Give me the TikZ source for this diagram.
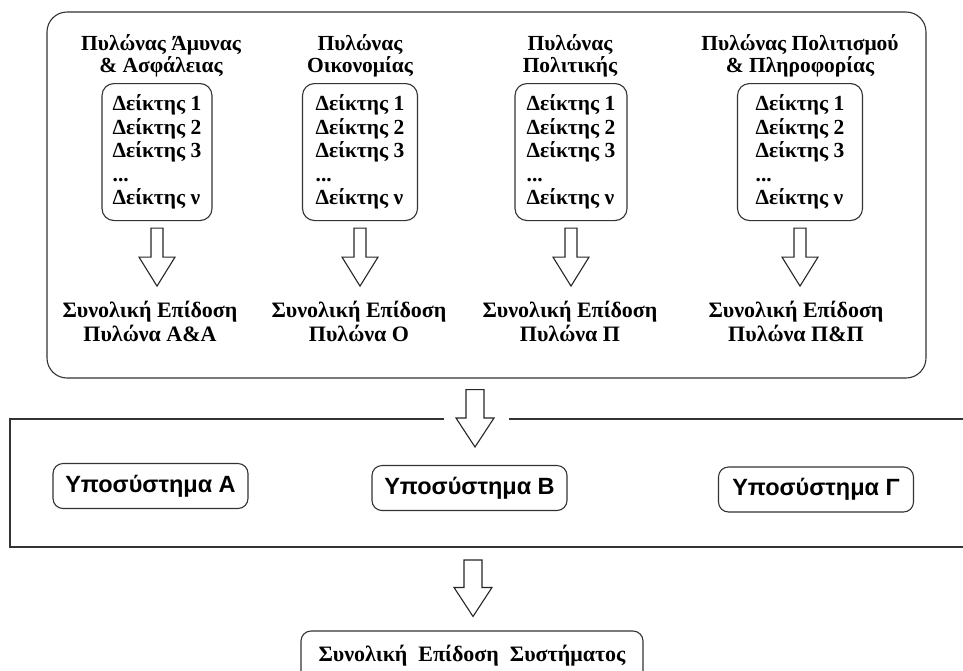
\documentclass[tikz,border=0pt]{standalone}
\usepackage{fontspec}
\setmainfont{Liberation Serif}
\setsansfont{Liberation Sans}
\usetikzlibrary{calc,positioning}

\tikzset{
  frame/.style={draw=black!80, line width=1.1pt},
  indbox/.style={frame, rounded corners=12pt, align=left, inner sep=0pt,
    minimum height=137pt, font=\bfseries\fontsize{21.5}{23.5}\selectfont},
  pillartitle/.style={align=center, inner sep=0pt, font=\bfseries\fontsize{21.5}{21.5}\selectfont},
  score/.style={align=center, inner sep=0pt, font=\bfseries\fontsize{22}{24}\selectfont},
  subbox/.style={frame, rounded corners=10pt, minimum width=195pt, minimum height=45pt,
    font=\sffamily\bfseries\fontsize{23.5}{26}\selectfont},
  blockarrow/.style={draw=black!85, line width=1.1pt, fill=white, line join=miter},
}
% hollow arrow pointing down: top, tip, half shaft, half head
\newcommand{\hollowarrow}[4]{%
  \draw[blockarrow] let \p1=(#1), \p2=(#2) in
    (\x1-#3,\y1) -- (\x1+#3,\y1) -- (\x1+#3,\y2+29pt) -- (\x1+#4,\y2+29pt) -- (\x1,\y2)
    -- (\x1-#4,\y2+29pt) -- (\x1-#3,\y2+29pt) -- cycle;}

\begin{document}
\begin{tikzpicture}[x=1pt, y=-1pt]
	\useasboundingbox (0,0) rectangle (963,670);
	\clip (0,0) rectangle (963,670);

	\node[frame, rounded corners=20pt, minimum width=879pt, minimum height=366pt] (pillars) at (486.5,195) {};

	% the four pillars
	\foreach \i/\x/\tx/\sx/\w/\title/\score in {
		1/157/161/150/110/{Πυλώνας Άμυνας\\\& Ασφάλειας}/{Συνολική Επίδοση\\Πυλώνα Α\&Α},
		2/360/360/359/115/{Πυλώνας\\Οικονομίας}/{Συνολική Επίδοση\\Πυλώνα Ο},
		3/571/570/570/112/{Πυλώνας\\Πολιτικής}/{Συνολική Επίδοση\\Πυλώνα Π},
		4/800/800/796/125/{Πυλώνας Πολιτισμού\\\& Πληροφορίας}/{Συνολική Επίδοση\\Πυλώνα Π\&Π}}
	{
		\node[pillartitle, anchor=south] (title\i) at (\tx,77) {\title};
		\node[indbox, minimum width=\w pt, anchor=north] (ind\i) at (\x,83)
			{Δείκτης 1\\Δείκτης 2\\Δείκτης 3\\...\\Δείκτης ν};
		\node[score, anchor=north] (score\i) at (\sx,301) {\score};
		\hollowarrow{$(ind\i.south)+(0,7)$}{$(ind\i.south)+(0,65)$}{6pt}{18pt}
	}

	% subsystems
	\coordinate (subtip) at (475,447);
	\draw[frame] (444,419) -- (10,419) -- (10,547) -- (975,547);
	\draw[frame] (509,419) -- (975,419);
	\node[subbox] (sysA) at (150.5,486) {Υποσύστημα Α};
	\node[subbox] (sysB) at (469.5,488) {Υποσύστημα Β};
	\node[subbox] (sysG) at (816,489.5) {Υποσύστημα Γ};
	\hollowarrow{$(pillars.south -| subtip)+(0,11)$}{subtip}{9pt}{19pt}

	% overall score
	\coordinate (framebot) at (473,547);
	\node[frame, rounded corners=10pt, minimum width=342pt, minimum height=50pt,
		font=\bfseries\fontsize{22}{24}\selectfont] (total) at (472,656)
		{Συνολική\ \ Επίδοση\ \ Συστήματος};
	\hollowarrow{$(framebot)+(0,13)$}{$(total.north)+(0,-14)$}{9pt}{19pt}
\end{tikzpicture}
\end{document}
